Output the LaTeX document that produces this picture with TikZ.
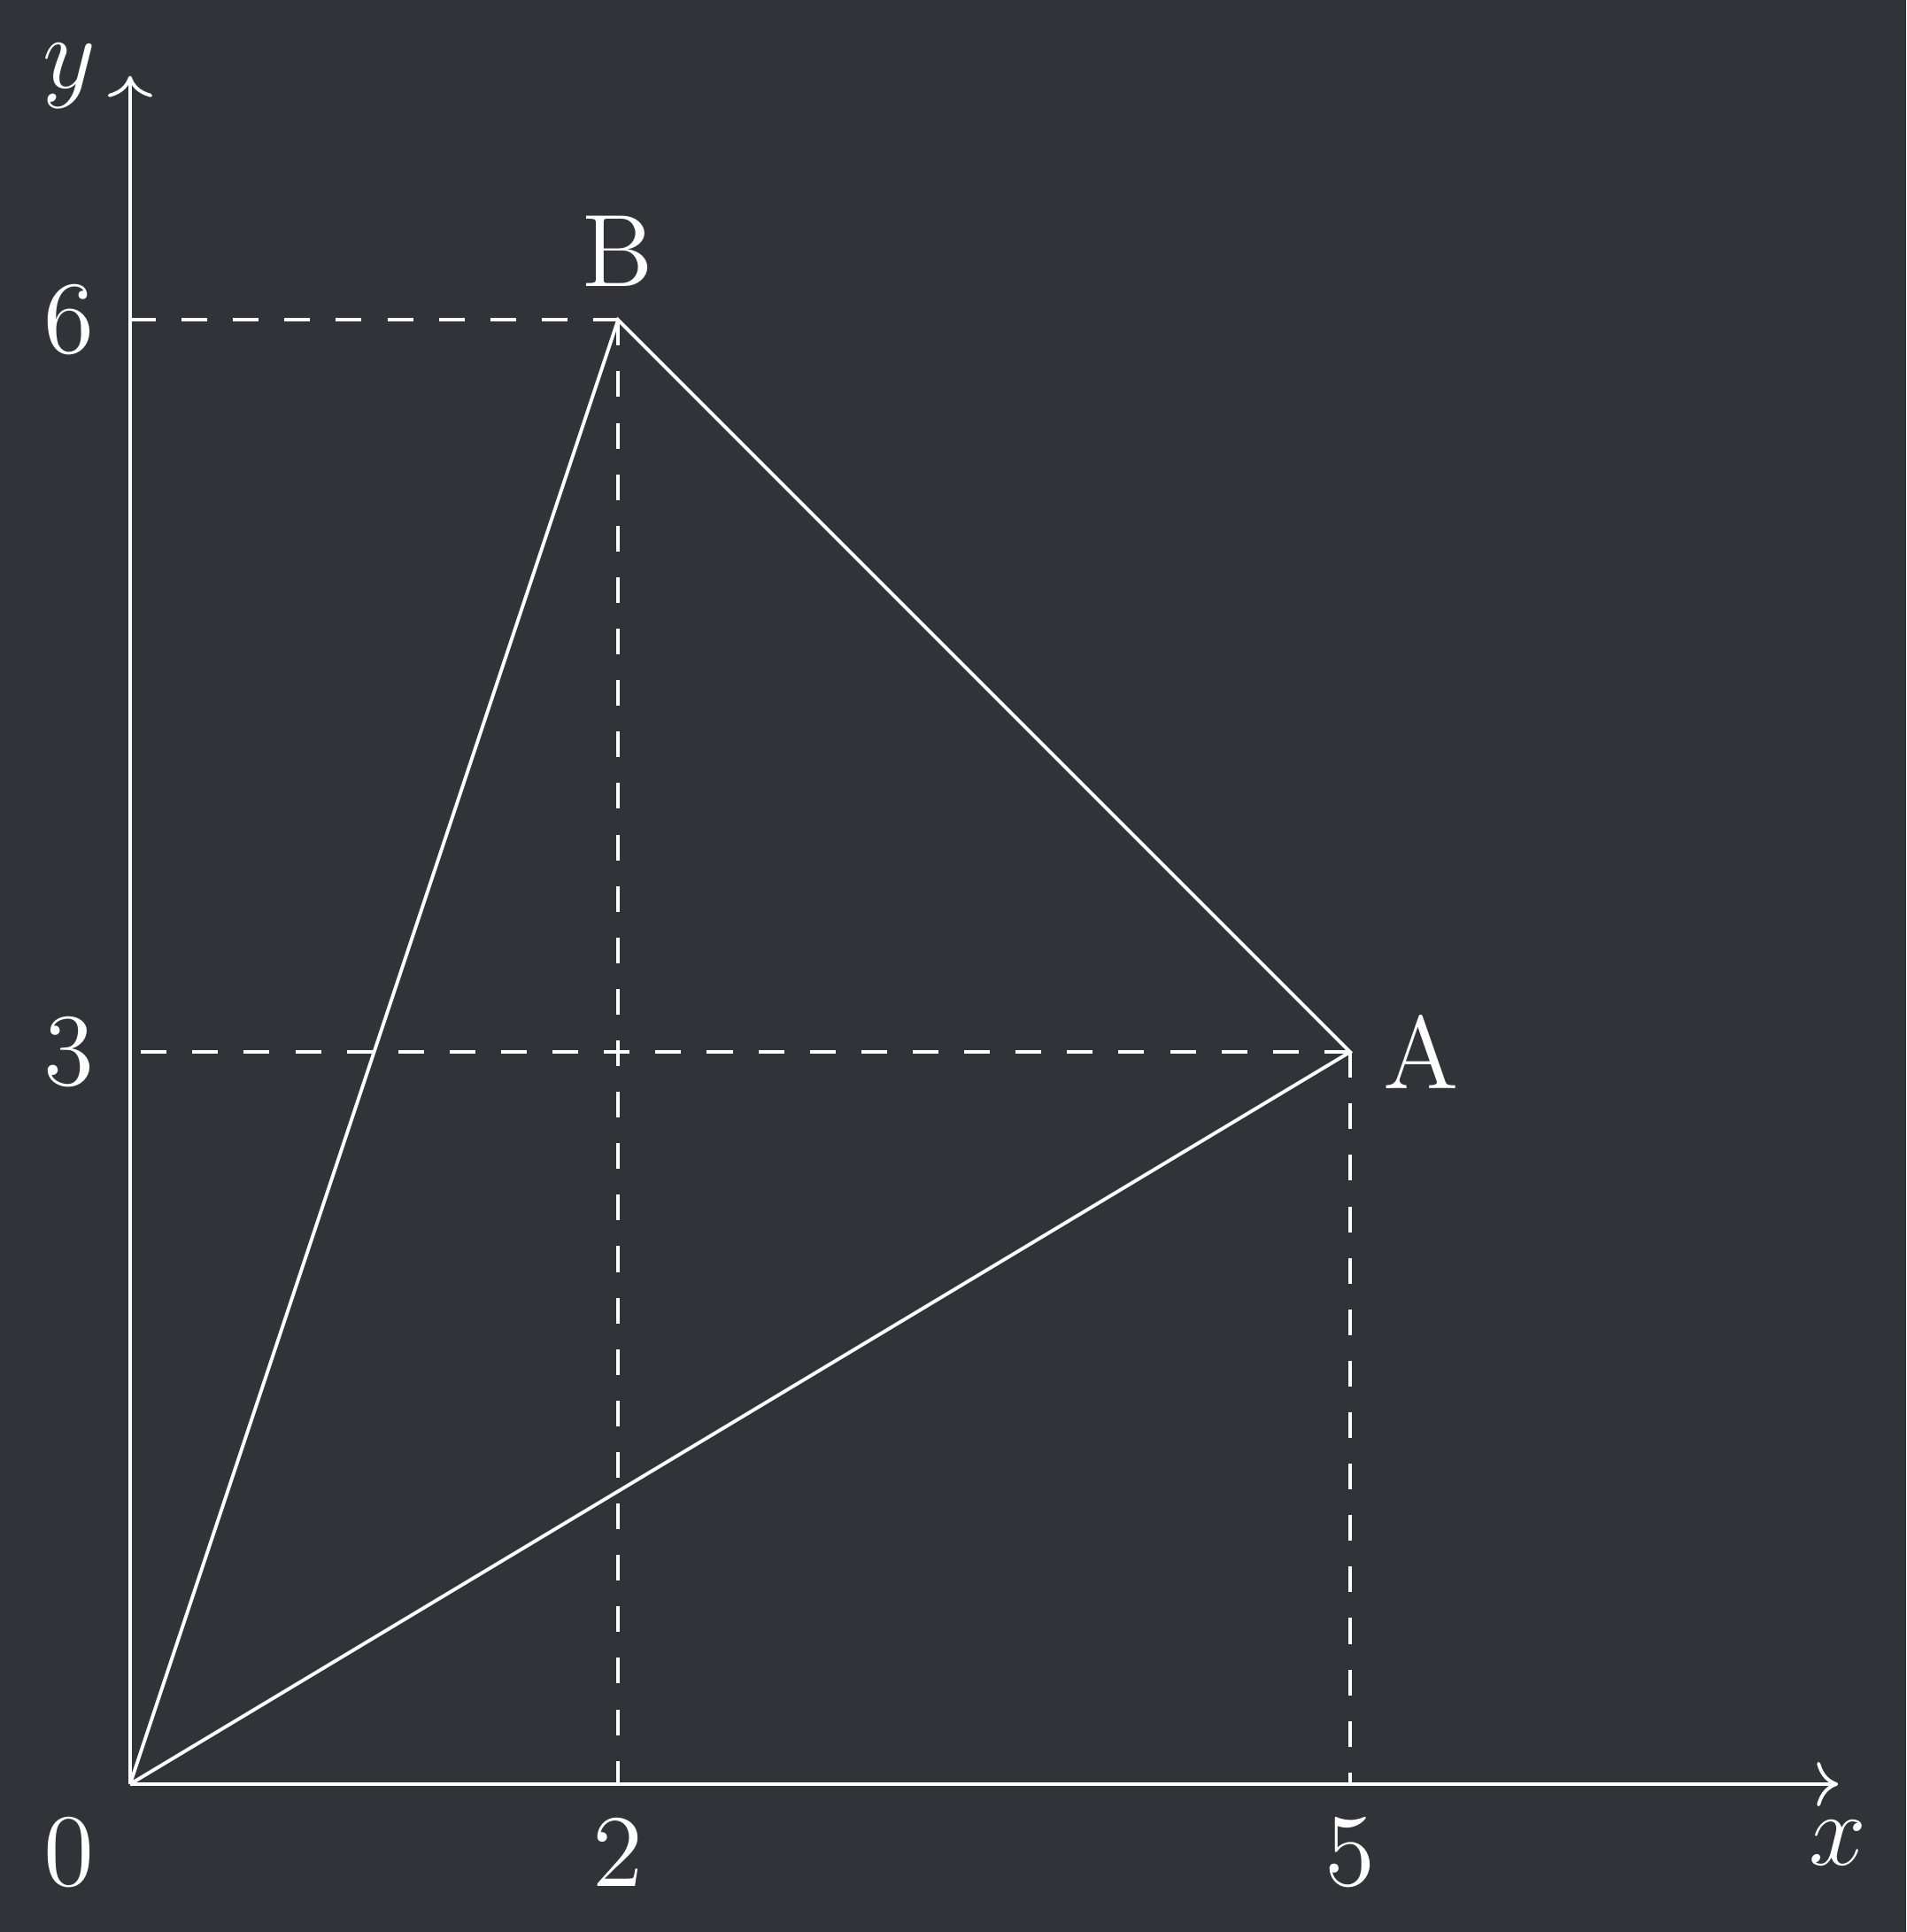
\documentclass[tikz,border=0pt]{standalone}
\usetikzlibrary{arrows.meta}
\definecolor{bgc}{RGB}{50,51,56}
\begin{document}
\begin{tikzpicture}[
  every node/.style={text=white,font=\large,inner sep=0pt},
  axis/.style={draw=white,line width=0.4pt,-{Computer Modern Rightarrow}},
  guide/.style={draw=white,line width=0.4pt,dashed},
  edge/.style={draw=white,line width=0.4pt}
]
\fill[bgc] (-0.533,-0.606) rectangle (7.279,7.311);
\useasboundingbox (-0.533,-0.606) rectangle (7.279,7.311);
\coordinate (O) at (0,0);
\coordinate (A) at (5,3);
\coordinate (B) at (2,6);
\coordinate (X) at (7,0);
\coordinate (Y) at (0,7);
\coordinate (A0) at (5,0);
\coordinate (B0) at (2,0);
\coordinate (A3) at (0,3);
\coordinate (B6) at (0,6);
\draw[guide] (B6) -- (B);
\draw[guide] (A) -- (A3);
\draw[guide] (B) -- (B0);
\draw[guide] (A) -- (A0);
\draw[axis] (O) -- (X);
\draw[axis] (O) -- (Y);
\draw[edge] (O) -- (B) -- (A) -- (O);
\node (lx) at (7,-0.24) {$x$};
\node (ly) at (-0.25,7) {$y$};
\node (l0) at (-0.25,-0.28) {0};
\node (l2) at (2,-0.28) {2};
\node (l5) at (5,-0.28) {5};
\node (l3) at (-0.25,3) {3};
\node (l6) at (-0.25,6) {6};
\node (lA) at (5.29,3) {A};
\node (lB) at (2,6.28) {B};
\end{tikzpicture}
\end{document}
